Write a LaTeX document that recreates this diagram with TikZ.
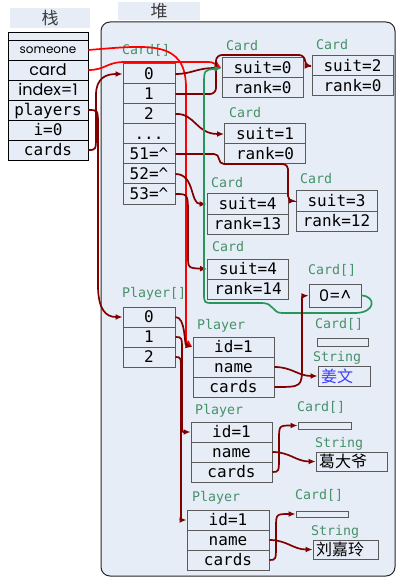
\documentclass[tikz,border=0pt]{standalone}
\usepackage{fontspec}
\usetikzlibrary{arrows.meta}
\newfontfamily\monofont{DejaVu Sans Mono}
\newfontfamily\cjkfont{Noto Sans CJK SC}
\newfontfamily\roundfont{Poppins}
\definecolor{heapbg}{RGB}{231,237,247}
\definecolor{boxgray}{RGB}{90,90,90}
\definecolor{tagGreen}{RGB}{70,145,105}
\definecolor{ptrRed}{RGB}{128,0,0}
\definecolor{varRed}{RGB}{255,0,0}
\definecolor{loopGreen}{RGB}{40,150,90}
\definecolor{nameBlue}{RGB}{60,60,255}
\definecolor{regionText}{RGB}{60,60,60}
\begin{document}
\begin{tikzpicture}[x=1pt, y=-1pt,
  heapcell/.style={draw=boxgray, fill=heapbg, line width=1pt, inner sep=0pt, minimum width=81pt, minimum height=20pt, text height=12pt, text depth=0.5pt, font=\monofont\fontsize{16}{18}\selectfont},
  slotcell/.style={heapcell, minimum width=52pt},
  emptycell/.style={draw=boxgray, fill=heapbg, line width=1pt, inner sep=0pt, minimum height=7pt},
  stackcell/.style={draw=black, fill=heapbg, line width=0.8pt, inner sep=0pt, minimum width=80pt, minimum height=20pt, text height=12pt, text depth=0.5pt, font=\monofont\fontsize{16}{18}\selectfont},
  strcell/.style={draw=boxgray, fill=heapbg, line width=1pt, text width=#1, align=left, inner xsep=3pt, inner ysep=0pt, minimum height=19pt, text height=13pt, text depth=1pt, font=\cjkfont\fontsize{16}{18}\selectfont},
  typetag/.style={anchor=west, inner sep=0pt, text height=9.6pt, text depth=0pt, text=tagGreen, font=\monofont\fontsize{13.3}{15}\selectfont},
  regiontag/.style={fill=heapbg, text=regionText, inner sep=0pt, font=\cjkfont\fontsize{17}{19}\selectfont},
  ptr/.style={draw=ptrRed, line width=1.7pt, -{Latex[length=7pt,width=6pt]}},
  varptr/.style={ptr, draw=varRed},
  loopptr/.style={ptr, draw=loopGreen}]
\useasboundingbox (0,0) rectangle (406,585);

\node (stackTag) at (50,18) [regiontag, minimum width=80pt, minimum height=20pt] {栈};
\node (heapTag) at (159,11) [regiontag, minimum width=82pt, minimum height=18pt] {堆};
\node (heap) at (248,299) [draw=black!85, fill=heapbg, line width=1pt, rounded corners=9pt, minimum width=294pt, minimum height=554pt] {};

% stack
\node (top) at (48,36) [stackcell, minimum height=8pt, text height=0pt, text depth=0pt] {};
\node (someone) at (48,50) [stackcell, text height=7pt, font=\roundfont\fontsize{12}{14}\selectfont] {someone};
\node (card) at (48,70) [stackcell, font=\roundfont\fontsize{16}{18}\selectfont] {card};
\node (index) at (48,90) [stackcell, font=\roundfont\fontsize{16}{18}\selectfont] {index=1};
\node (players) at (48,110) [stackcell] {players};
\node (iv) at (48,130) [stackcell] {i=0};
\node (cards) at (48,150) [stackcell] {cards};

% Card[]
\node (deckTag) at (122,50) [typetag] {Card[]};
\node (ca0) at (149,74) [slotcell] {0};
\node (ca1) at (149,94) [slotcell] {1};
\node (ca2) at (149,114) [slotcell] {2};
\node (cadots) at (149,134) [slotcell] {...};
\node (ca51) at (149,154) [slotcell] {51=\textasciicircum};
\node (ca52) at (149,174) [slotcell] {52=\textasciicircum};
\node (ca53) at (149,194) [slotcell] {53=\textasciicircum};

% cards
\node (c0Tag) at (226,46) [typetag] {Card};
\node (c0s) at (262.5,68) [heapcell] {suit=0};
\node (c0r) at (262.5,88) [heapcell] {rank=0};
\node (c2Tag) at (316,45) [typetag] {Card};
\node (c2s) at (352.5,66) [heapcell] {suit=2};
\node (c2r) at (352.5,86) [heapcell] {rank=0};
\node (c1Tag) at (229,113) [typetag] {Card};
\node (c1s) at (265,134) [heapcell] {suit=1};
\node (c1r) at (265,154) [heapcell] {rank=0};
\node (c13Tag) at (211,183) [typetag] {Card};
\node (c13s) at (247.5,204) [heapcell] {suit=4};
\node (c13r) at (247.5,224) [heapcell] {rank=13};
\node (c12Tag) at (300,179) [typetag] {Card};
\node (c12s) at (336.5,201) [heapcell] {suit=3};
\node (c12r) at (336.5,221) [heapcell] {rank=12};
\node (c14Tag) at (212,247) [typetag] {Card};
\node (c14s) at (248,269) [heapcell] {suit=4};
\node (c14r) at (248,289) [heapcell] {rank=14};
\node (handTag) at (308,270) [typetag] {Card[]};
\node (hand) at (335,295.5) [heapcell, minimum width=52pt, minimum height=23pt, font=\roundfont\fontsize{16}{18}\selectfont] {0=\textasciicircum};

% Player[]
\node (seatTag) at (122,293) [typetag] {Player[]};
\node (pa0) at (149,317) [slotcell] {0};
\node (pa1) at (149,337) [slotcell] {1};
\node (pa2) at (149,357) [slotcell] {2};

% players
\node (p1Tag) at (197,325) [typetag] {Player};
\node (p1id) at (233.5,347) [heapcell] {id=1};
\node (p1name) at (233.5,367) [heapcell] {name};
\node (p1cards) at (233.5,387) [heapcell] {cards};
\node (e1Tag) at (315,324) [typetag] {Card[]};
\node (e1) at (342.5,342) [emptycell, minimum width=51pt, minimum height=8pt] {};
\node (s1Tag) at (313,357) [typetag] {String};
\node (s1) at (344,376) [strcell=46pt, minimum height=20pt, text=nameBlue] {姜文};

\node (p2Tag) at (195,410) [typetag] {Player};
\node (p2id) at (231.5,432) [heapcell] {id=1};
\node (p2name) at (231.5,452) [heapcell] {name};
\node (p2cards) at (231.5,472) [heapcell] {cards};
\node (e2Tag) at (297,407) [typetag] {Card[]};
\node (e2) at (324.5,425.5) [emptycell, minimum width=53pt] {};
\node (s2Tag) at (315,443) [typetag] {String};
\node (s2) at (351.5,461.5) [strcell=65pt] {葛大爷};

\node (p3Tag) at (192,497) [typetag] {Player};
\node (p3id) at (228,520) [heapcell, minimum width=82pt] {id=1};
\node (p3name) at (228,540) [heapcell, minimum width=82pt] {name};
\node (p3cards) at (228,560) [heapcell, minimum width=82pt] {cards};
\node (e3Tag) at (295,495) [typetag] {Card[]};
\node (e3) at (322,514) [emptycell, minimum width=52pt, minimum height=6pt] {};
\node (s3Tag) at (311,531) [typetag] {String};
\node (s3) at (345.5,549.5) [strcell=59pt] {刘嘉玲};

% stack references
\draw[varptr] (someone.east) .. controls (150,45) and (186,40) .. (186,88) -- (186,330) .. controls (186,342) .. (p1id.west);
\draw[varptr] (card.east) .. controls (106,70) and (106,62) .. (125,62) -- (204,62) .. controls (212,62) .. (c0s.west);
\draw[ptr] (players.east) .. controls (98,110) .. (98,125) -- (98,285) .. controls (98,310) and (106,317) .. (pa0.west);
\draw[ptr] (cards.east) .. controls (96,150) .. (96,135) -- (96,95) .. controls (96,78) and (106,74) .. (ca0.west);

% Card[] slots
\draw[ptr] (ca0.east) .. controls (192,74) and (196,68) .. (c0s.west);
\draw[ptr, rounded corners=6pt] (ca1.east) -- (216,94) -- (216,55) -- (305,55) |- (c2s.west);
\draw[ptr] (ca2.east) .. controls (195,113) and (196,134) .. (c1s.west);
\draw[ptr, rounded corners=5pt] (ca51.east) -- (219,154) |- (288,164) |- (c12s.west);
\draw[ptr] (ca52.east) .. controls (195,174) and (190,204) .. (c13s.west);
\draw[ptr] (ca53.east) .. controls (188,194) .. (188,215) -- (188,255) .. controls (188,268) .. (c14s.west);
\draw[loopptr] (hand.east) .. controls (376,296) and (376,313) .. (355,313) -- (282,313) .. controls (272,313) and (274,303) .. (262,303) -- (213,303) .. controls (204,303) .. (204,292) -- (204,85) .. controls (204,70) .. (c0s.west);

% Player[] slots
\draw[ptr] (pa0.east) .. controls (186,317) and (184,345) .. (p1id.west);
\draw[ptr] (pa1.east) .. controls (182,337) .. (182,352) -- (182,420) .. controls (182,432) .. (p2id.west);
\draw[ptr] (pa2.east) .. controls (181,357) .. (181,372) -- (181,508) .. controls (181,520) .. (p3id.west);

% player fields
\draw[ptr] (p1name.east) .. controls (292,367) and (298,376) .. (s1.west);
\draw[ptr] (p1cards.east) .. controls (302,387) .. (302,365) -- (302,310) .. controls (302,296) .. (hand.west);
\draw[ptr] (p2name.east) .. controls (290,452) and (296,461.5) .. (s2.west);
\draw[ptr] (p2cards.east) .. controls (279,472) .. (279,455) -- (279,440) .. controls (279,425.5) .. (e2.west);
\draw[ptr] (p3name.east) .. controls (287,540) and (293,549.5) .. (s3.west);
\draw[ptr] (p3cards.east) .. controls (276,560) .. (276,543) -- (276,528) .. controls (276,514) .. (e3.west);
\end{tikzpicture}
\end{document}
